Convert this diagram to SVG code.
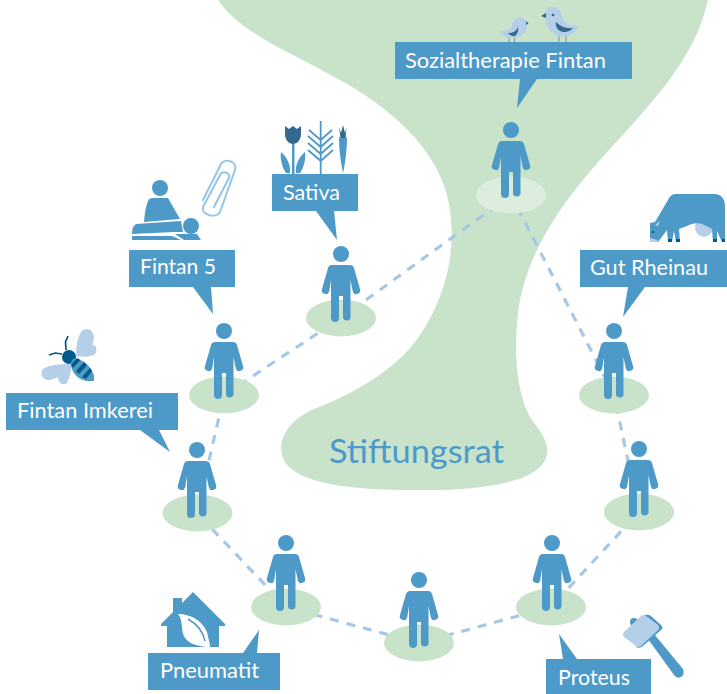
<svg xmlns="http://www.w3.org/2000/svg" xmlns:xlink="http://www.w3.org/1999/xlink" width="727" height="694" viewBox="0 0 727 694">
<style>
.b{fill:#4d9ac9}.d{fill:#33688f}.k{fill:#005a8a}.l{fill:#b6cfe8}.w{fill:#fff}
.pad{fill:#c9e3cb}.lab{fill:#fff;font-family:"Lato","Noto Sans",sans-serif;font-size:21.500px}
.con{fill:none;stroke:#a6c8e6;stroke-width:3.200;stroke-dasharray:9 8}
</style>
<defs>
<g id="man"><circle cx="0" cy="0" r="8" class="b"/><path class="b" d="M-9 11H9Q12 11 13 14L19 35A3.800 3.800 0 0 1 11.800 37.500L9.500 26V64A4 4 0 0 1 2 64V42H-2V64A4 4 0 0 1-10 64V26L-11.800 37.500A3.800 3.800 0 0 1-19 35L-13 14Q-12 11-9 11Z"/></g>
</defs>
<rect width="727" height="694" fill="#fff"/>
<path id="blob" fill="#c9e3cb" d="M218 0C240 32 285 50 325 72C380 100 432 140 447 195C458 240 450 290 420 335C395 372 350 395 312 410C285 422 275 445 285 462C300 484 350 490 415 490C470 491 525 485 542 465C553 450 545 437 534 423C514 395 513 340 520 300C530 250 560 205 600 160C650 105 695 60 708 0Z"/>
<g id="connectors"><path class="con" d="M511 195L341 318L224 395L197 513L286 607L419 643L551 607L639 512L614 395L511 195"/></g>
<g id="stiftungsrat"><text x="329" y="463" fill="#4d9ac9" font-family="Lato,'Noto Sans',sans-serif" font-size="33" textLength="175" lengthAdjust="spacingAndGlyphs">Stiftungsrat</text></g>

<g id="node-sozialtherapie">
<ellipse cx="511" cy="195" rx="35" ry="18.500" fill="#dcedde"/><use xlink:href="#man" href="#man" x="511" y="130"/>
<path class="b" d="M395 42H632V79H537L517 108L520 79H395Z"/>
<text class="lab" x="405" y="68" textLength="201" lengthAdjust="spacingAndGlyphs">Sozialtherapie Fintan</text>
<path class="l" d="M500 32Q508 30 511 28Q513 18 520 17Q526 18 527 23Q528 34 516 38Q505 39 500 32Z"/>
<path class="d" d="M508 33Q516 33 518 27Q519 33 515 36Q511 37 508 33Z"/>
<path class="d" d="M526 21L528.500 23.500L526 25Z"/><path d="M509 38V42.500M514.500 38V42.500M559 36V42.500M566 36V42.500" stroke="#6d96a8" stroke-width="1"/>
<path class="l" d="M552 7C559 7 562 13 563 19C567 25 572 26 579 26C576 34 566 38 558 36C548 32 545 22 545 15C546 10 548 7 552 7Z"/>
<path class="d" d="M556 22C560 26 566 29 573 28C570 32 564 33 560 31C557 29 555 26 556 22Z"/><path class="d" d="M546 13L541 16L546 18Z"/>
<circle cx="553" cy="15" r="1.300" class="d"/>
</g>

<g id="node-sativa">
<ellipse class="pad" cx="341" cy="318" rx="35" ry="18.500"/><use xlink:href="#man" href="#man" x="341" y="254"/>
<path class="b" d="M272 174H358V211H334L337 240L316 211H272Z"/>
<text class="lab" x="283" y="200" textLength="57" lengthAdjust="spacingAndGlyphs">Sativa</text>
<path class="d" d="M285 126L289 129L293 126L297 129L301 126V134C301 140 297 144 293 144C289 144 285 140 285 134Z"/>
<path class="b" d="M292 144H294.500V174H292ZM281 152C287 157 291 165 290 173H286C282 167 280 159 281 152ZM305 152C299 157 295 165 296 173H300C304 167 306 159 305 152Z"/>
<path d="M320.700 121V174M320.700 161L308 150M320.700 161L333 150M320.700 154L308 143M320.700 154L333 143M320.700 147L308 136M320.700 147L333 136M320.700 140L309 130M320.700 140L332 130" fill="none" stroke="#4d9ac9" stroke-width="1.800"/>
<path class="b" d="M339 138C341 136 345 136 347 138C347 150 345 164 343 173C341 164 339 150 339 138Z"/>
<path class="d" d="M339 127L341 133L343 125L345 133L346.500 127L345.500 138H340.500Z"/>
</g>

<g id="node-fintan5">
<ellipse class="pad" cx="224" cy="395" rx="35" ry="18.500"/><use xlink:href="#man" href="#man" x="224" y="331"/>
<path class="b" d="M129 250H235V287H211L213 314L193 287H129Z"/>
<text class="lab" x="140" y="274" textLength="76" lengthAdjust="spacingAndGlyphs">Fintan 5</text>
<circle class="b" cx="160" cy="188" r="8"/>
<path class="b" d="M153 198H168L180 219L144 222Q145 208 148 201Q149 198 153 198Z"/>
<circle class="b" cx="191" cy="226" r="8"/>
<path class="b" d="M136 224L181 221L183 232L174 232L132 234Q132 226 136 224ZM132 236H172L181 240H132ZM175 234H197L201 240H184Z"/>
<path d="M203 200L221 164C225 157 238 162 235 170L220 212C216 219 201 215 203 207L220 175C223 170 231 173 229 178L214 207" fill="none" stroke="#93c5ea" stroke-width="2" stroke-linecap="round"/>
</g>

<g id="node-imkerei">
<ellipse class="pad" cx="197.500" cy="513" rx="35" ry="18.500"/><use xlink:href="#man" href="#man" x="197" y="450"/>
<path class="b" d="M6 393H178V430H159L170 452L140 430H6Z"/>
<text class="lab" x="17" y="418" textLength="136" lengthAdjust="spacingAndGlyphs">Fintan Imkerei</text>
<path class="l" d="M76 356Q76 340 81 332C85 326 94 330 94 337Q94 341 92 345C97 344 98 352 94 355Q88 358 76 356ZM71 364C60 364 48 365 43 369C39 374 43 381 50 380C53 379 56 378 58 377C58 383 63 386 67 383C70 378 71 372 71 364Z"/>
<circle class="k" cx="69" cy="357" r="7"/>
<path class="b" d="M73 359C80 357 92 366 94 376V381H88C79 381 70 372 71 362Z"/>
<path class="k" d="M77 358L80.500 360L73 368L71 365ZM84 362L87 365L79 374L76 371ZM90 368L92 371L86 379L82 377Z"/>
<path d="M66 350L65.500 342L68 336M62 354L55 353L49 355" fill="none" stroke="#005a8a" stroke-width="1.700"/>
</g>

<g id="node-pneumatit">
<ellipse class="pad" cx="286" cy="607" rx="35" ry="18.500"/><use xlink:href="#man" href="#man" x="286" y="543"/>
<path class="b" d="M148 653H243L259 630L257 653H280V690H148Z"/>
<text class="lab" x="160" y="678" textLength="99" lengthAdjust="spacingAndGlyphs">Pneumatit</text>
<path class="b" d="M193 592L225 624V626H219V647H167V626H161V624L173 612V598H182V603Z"/>
<path class="w" d="M178 614C190 614 202 620 207 632C208 638 210 642 210 647H206C200 646 190 645 185 638C180 630 184 622 178 614Z"/>
<path d="M188 619C197 624 203 632 205 641" fill="none" stroke="#4d9ac9" stroke-width="1.500"/>
</g>

<g id="node-middle">
<ellipse class="pad" cx="419" cy="643" rx="35" ry="18.500"/><use xlink:href="#man" href="#man" x="419" y="580"/>
</g>

<g id="node-proteus">
<ellipse class="pad" cx="551" cy="607" rx="35" ry="18.500"/><use xlink:href="#man" href="#man" x="552" y="543"/>
<path class="b" d="M546 659H563L559 634L577 659H651V694H546Z"/>
<text class="lab" x="558" y="685" textLength="72" lengthAdjust="spacingAndGlyphs">Proteus</text>
<circle class="b" cx="634" cy="622" r="4"/>
<path class="b" d="M648 639L654 634L683 669Q685 674 681 677Q677 679 674 675Z"/>
<path class="b" d="M645 615Q648 614 651 616L661 625Q664 628 661 630L643 646Q640 649 636 647Z"/>
<path class="l" d="M641 616Q643 614 646 616L658 625Q660 628 658 630L641 646Q638 648 636 646L624 637Q622 634 624 632Z"/>
</g>

<g id="node-six">
<ellipse class="pad" cx="639" cy="512" rx="35" ry="18.500"/><use xlink:href="#man" href="#man" x="639" y="449"/>
</g>

<g id="node-gut-rheinau">
<ellipse class="pad" cx="614" cy="395" rx="35" ry="18.500"/><use xlink:href="#man" href="#man" x="614" y="331"/>
<path class="b" d="M580 250H727V287H645L623 317L628 287H580Z"/>
<text class="lab" x="590" y="275" textLength="118" lengthAdjust="spacingAndGlyphs">Gut Rheinau</text>
<ellipse class="l" cx="704" cy="227" rx="9" ry="10"/>
<path class="b" d="M676 194H714C722 194 725 200 725 206V242H722L717 231L717 242H713L712 229C700 222 695 222 687 226L679 229L680 242H676L674 231L672 242H668L667 230L658 242H650V223L655 222L668 200C670 196 672 194 676 194Z"/>
<path class="k" d="M668 239H672V242H668ZM676 239H680V242H676ZM713 239H717V242H713ZM722 239H725V242H722ZM652 231H654V233H652Z"/>
<path class="l" d="M650 238L658 240L657 242H650ZM655 225L660 221L658 226Z"/>
</g>
</svg>
